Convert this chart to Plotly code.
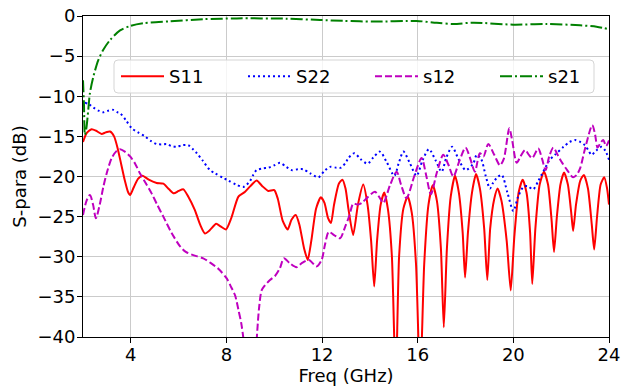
import plotly.graph_objects as go

# ---------------- data ----------------
s11_f = [2.0, 2.15, 2.36, 2.55, 2.78, 2.95, 3.13, 3.3, 3.45, 3.6, 3.75, 3.88, 3.97, 4.1, 4.3, 4.49,
         4.75, 5.08, 5.36, 5.6, 5.8, 6.0, 6.2, 6.4, 6.68, 6.9, 7.1, 7.3, 7.57, 7.75, 7.98, 8.2, 8.5,
         8.78, 9.0, 9.26, 9.5, 9.75, 10.0, 10.15, 10.35, 10.56, 10.72, 10.9, 11.05, 11.25, 11.4,
         11.55, 11.75, 11.95, 12.1, 12.25, 12.37, 12.5, 12.7, 12.85, 12.98, 13.1, 13.3,
         13.5, 13.72, 13.9, 14.05, 14.18, 14.3, 14.45, 14.6, 14.75, 14.92, 15.08, 15.22, 15.4,
         15.58, 15.75, 15.93, 16.1, 16.27, 16.45, 16.63, 16.8, 16.97, 17.09, 17.22, 17.38, 17.56,
         17.72, 17.88, 17.98, 18.1, 18.27, 18.44, 18.6, 18.78, 18.91, 19.03, 19.2, 19.34, 19.5,
         19.72, 19.89, 20.04, 20.22, 20.39, 20.55, 20.7, 20.79, 20.92, 21.1, 21.28, 21.45, 21.6,
         21.7, 21.82, 21.97, 22.12, 22.28, 22.42, 22.5, 22.62, 22.8, 22.95, 23.12, 23.28, 23.38,
         23.5, 23.65, 23.8, 23.92, 24.0]
s11_db = [-15.7, -14.6, -14.1, -14.3, -14.7, -14.5, -14.4, -15.0, -16.5, -18.5, -20.5, -21.9, -22.3,
          -21.5, -20.3, -19.9, -20.4, -20.8, -20.9, -21.6, -22.1, -21.8, -21.6, -22.5, -24.2, -26.0,
          -27.1, -26.7, -25.9, -26.2, -26.6, -25.2, -22.5, -21.9, -21.2, -20.5, -21.2, -21.8, -21.7,
          -22.8, -25.5, -26.6, -25.4, -24.8, -26.0, -29.0, -30.4, -28.0, -24.0, -22.6, -23.3, -25.2,
          -25.8, -23.5, -20.9, -20.4, -21.5, -24.0, -27.3,
          -23.5, -21.0, -23.5, -28.0, -33.7, -28.0, -23.5, -22.0, -24.0, -30.0, -46.0, -30.0, -24.0,
          -22.5, -24.5, -31.0, -46.0, -31.0, -23.5, -21.1, -23.0, -29.0, -38.8, -29.0, -22.5, -19.9,
          -22.0, -27.0, -32.6, -27.0, -22.0, -19.7, -21.5, -26.5, -32.9, -26.5, -22.8, -21.5, -23.0,
          -28.0, -34.2, -27.5, -22.0, -20.4, -22.0, -27.0, -33.4, -26.5, -21.0, -19.4, -21.0, -25.5,
          -29.4, -25.0, -21.0, -19.5, -21.0, -24.5, -26.8, -23.5, -20.5, -19.8, -21.5, -26.0, -29.1,
          -25.0, -21.0, -20.1, -21.5, -23.5]

s22_f = [2.08, 2.25, 2.43, 2.65, 2.85, 3.05, 3.27, 3.45, 3.55, 3.8, 4.04, 4.3, 4.59, 4.85, 5.08, 5.3,
         5.5, 5.7, 5.92, 6.15, 6.4, 6.6, 6.76, 7.0, 7.31, 7.52, 7.87, 8.08, 8.4, 8.7, 8.85, 8.98,
         9.12, 9.26, 9.5, 9.75, 10.0, 10.24, 10.5, 10.72, 11.0, 11.21, 11.5, 11.84, 12.1, 12.33,
         12.6, 12.79, 13.0, 13.1, 13.35, 13.6, 13.9, 14.15, 14.42, 14.7, 15.02, 15.2, 15.4, 15.65,
         15.95, 16.2, 16.47, 16.75, 17.0, 17.2, 17.44, 17.7, 18.0, 18.32, 18.47, 18.65, 18.85, 19.02,
         19.15, 19.3, 19.51, 19.75, 20.0, 20.2, 20.42, 20.6, 20.83, 21.05, 21.32, 21.5, 21.74, 22.1,
         22.35, 22.58, 22.8, 22.99, 23.15, 23.27, 23.45, 23.69, 23.85, 24.0]
s22_db = [-10.8, -11.0, -11.4, -11.8, -12.0, -11.8, -11.7, -12.0, -12.1, -13.0, -14.0, -14.5, -15.0,
          -15.6, -15.95, -16.0, -15.95, -16.2, -16.3, -16.1, -16.1, -16.6, -17.1, -18.0, -19.2, -19.6,
          -20.2, -20.5, -21.0, -21.3, -21.0, -20.6, -19.8, -19.2, -19.0, -18.9, -18.6, -18.3, -18.8,
          -19.2, -19.1, -19.1, -19.6, -20.1, -19.3, -18.8, -18.9, -18.9, -18.2, -17.7, -17.1, -17.8,
          -18.4, -17.6, -16.9, -18.2, -19.9, -18.4, -16.9, -18.2, -19.9, -18.0, -16.6, -18.0, -19.4,
          -17.6, -16.3, -17.8, -19.2, -18.4, -17.3, -17.8, -20.0, -21.5, -20.8, -20.2, -19.8, -22.0,
          -24.3, -22.5, -21.3, -21.2, -21.6, -20.5, -19.0, -18.0, -17.3, -16.3, -15.7, -15.45, -15.7,
          -16.1, -16.8, -17.3, -16.8, -16.3, -16.8, -17.9]

s12_f = [2.0, 2.15, 2.29, 2.42, 2.54, 2.7, 2.85, 3.0, 3.2, 3.38, 3.55, 3.75, 3.97, 4.18, 4.38, 4.62,
         4.87, 5.1, 5.36, 5.7, 6.06, 6.3, 6.61, 7.03, 7.35, 7.66, 8.01, 8.2, 8.36, 8.5, 8.62, 8.72,
         8.85, 9.15, 9.26, 9.36, 9.47, 9.6, 9.82, 10.03, 10.24, 10.4, 10.65, 10.93, 11.15, 11.45,
         11.77, 11.98, 12.12, 12.28, 12.5, 12.75, 12.96, 13.15, 13.3, 13.5, 13.66, 13.9, 14.21, 14.4,
         14.56, 14.85, 15.12, 15.3, 15.53, 15.85, 16.16, 16.35, 16.55, 16.8, 17.07, 17.28, 17.49,
         17.75, 18.0, 18.2, 18.39, 18.6, 18.75, 18.95, 19.2, 19.44, 19.6, 19.83, 19.95, 20.14, 20.3,
         20.49, 20.65, 20.79, 21.04, 21.2, 21.35, 21.5, 21.67, 21.85, 22.02, 22.25, 22.5, 22.65,
         22.79, 23.0, 23.3, 23.42, 23.52, 23.65, 23.76, 23.88, 24.0]
s12_db = [-24.8, -23.0, -22.3, -23.5, -25.2, -23.5, -21.3, -19.5, -17.7, -16.9, -16.6, -16.9, -17.5,
          -18.4, -19.6, -20.8, -22.1, -23.5, -25.0, -27.0, -28.7, -29.4, -29.8, -30.2, -30.8, -31.5,
          -32.7, -33.8, -34.8, -36.6, -38.3, -40.5, -45.0, -45.0, -40.5, -36.5, -34.2, -33.6, -32.9,
          -32.4, -31.4, -30.2, -30.8, -31.3, -30.8, -30.4, -31.2, -30.4, -28.5, -26.9, -27.3, -27.7,
          -26.3, -24.8, -23.4, -23.5, -23.3, -22.6, -21.9, -22.6, -23.3, -21.0, -19.4, -21.0, -22.7,
          -20.0, -17.7, -19.8, -22.2, -19.5, -17.3, -18.5, -20.0, -18.0, -16.4, -17.8, -19.4, -17.1,
          -17.5, -15.95, -17.3, -18.6, -17.8, -14.0, -15.5, -18.3, -17.5, -16.7, -17.3, -17.7, -16.5,
          -17.8, -19.2, -17.5, -16.4, -17.3, -18.2, -19.2, -20.1, -19.8, -19.0, -16.5, -13.6, -14.8,
          -16.4, -15.8, -15.45, -16.2, -15.5]

s21_f = [2.0, 2.04, 2.08, 2.14, 2.22, 2.29, 2.43, 2.64, 2.85, 3.13, 3.55, 3.97, 4.52, 5.64, 7.03,
         8.43, 10.5, 11.91, 12.9, 14.14, 15.95, 16.8, 17.49, 18.32, 20.0, 21.39, 22.79, 23.48, 24.0]
s21_db = [-8.0, -11.0, -14.8, -14.0, -11.7, -9.6, -7.6, -5.5, -4.2, -3.0, -1.8, -1.25, -0.9, -0.66,
          -0.4, -0.3, -0.33, -0.5, -0.6, -0.7, -0.62, -0.85, -1.0, -0.83, -1.08, -1.0, -1.16, -1.33,
          -1.66]

x_ticks = [4, 8, 12, 16, 20, 24]
y_ticks = [0, -5, -10, -15, -20, -25, -30, -35, -40]

FONT = "DejaVu Sans"
W, H = 621, 387
ML, MR, MT, MB = 83, 12, 16, 50
PW, PH = W - ML - MR, H - MT - MB


def px_to_paper_x(px):
    return (px - ML) / PW


def px_to_paper_y(py):
    return (H - MB - py) / PH


fig = go.Figure()
fig.add_trace(go.Scatter(x=s11_f, y=s11_db, mode="lines", name="S11", legend="legend",
                         line=dict(color="#ff0000", width=2, shape="spline", smoothing=0.6)))
fig.add_trace(go.Scatter(x=s22_f, y=s22_db, mode="lines", name="S22", legend="legend2",
                         line=dict(color="#0000ff", width=2, dash="2px,3px",
                                   shape="spline", smoothing=0.8)))
fig.add_trace(go.Scatter(x=s12_f, y=s12_db, mode="lines", name="s12", legend="legend3",
                         line=dict(color="#bf00bf", width=2, dash="7px,3px",
                                   shape="spline", smoothing=0.8)))
fig.add_trace(go.Scatter(x=s21_f, y=s21_db, mode="lines", name="s21", legend="legend4",
                         line=dict(color="#008000", width=2, dash="12px,3px,2px,3px",
                                   shape="spline", smoothing=0.8)))

axis_common = dict(showline=True, linecolor="black", linewidth=1, mirror=True,
                   ticks="outside", ticklen=5, tickcolor="black", tickwidth=1,
                   showgrid=True, gridcolor="#cbcbcb", gridwidth=1, zeroline=False,
                   automargin=False,
                   tickfont=dict(family=FONT, size=18, color="black"))

fig.update_xaxes(range=[2, 24], tickvals=x_ticks, ticktext=[str(v) for v in x_ticks],
                 ticklabelstandoff=-4,
                 title=dict(text="Freq (GHz)", font=dict(family=FONT, size=18, color="black"),
                            standoff=4),
                 **axis_common)
fig.update_yaxes(range=[-40, 0], tickvals=y_ticks,
                 ticktext=[("\u2212" + str(-v)) if v < 0 else str(v) for v in y_ticks],
                 ticklabelstandoff=-2,
                 title=dict(text="S-para (dB)", font=dict(family=FONT, size=18, color="black"),
                            standoff=6),
                 **axis_common)

# legend frame (rounded box drawn as a shape)
bx0, bx1 = px_to_paper_x(114), px_to_paper_x(594)
by1, by0 = px_to_paper_y(60), px_to_paper_y(93)
rx, ry = 4 / PW, 4 / PH
box_path = (f"M{bx0+rx},{by1} L{bx1-rx},{by1} Q{bx1},{by1} {bx1},{by1-ry} "
            f"L{bx1},{by0+ry} Q{bx1},{by0} {bx1-rx},{by0} L{bx0+rx},{by0} "
            f"Q{bx0},{by0} {bx0},{by0+ry} L{bx0},{by1-ry} Q{bx0},{by1} {bx0+rx},{by1} Z")
fig.add_shape(type="path", path=box_path, xref="paper", yref="paper", layer="above",
              fillcolor="rgba(255,255,255,0.8)", line=dict(color="#d5d5d5", width=1))

leg_common = dict(orientation="h", xanchor="left", yanchor="middle",
                  y=px_to_paper_y(76.5), bgcolor="rgba(0,0,0,0)", borderwidth=0,
                  itemwidth=43, font=dict(family=FONT, size=18, color="black"))

fig.update_layout(
    width=W, height=H, autosize=False, showlegend=True,
    margin=dict(l=ML, r=MR, t=MT, b=MB),
    plot_bgcolor="white", paper_bgcolor="white",
    font=dict(family=FONT, size=18, color="black"),
    legend=dict(x=px_to_paper_x(116), **leg_common),
    legend2=dict(x=px_to_paper_x(243), **leg_common),
    legend3=dict(x=px_to_paper_x(370), **leg_common),
    legend4=dict(x=px_to_paper_x(495), **leg_common),
)

fig.write_html("out.html", config={"displayModeBar": False},
               post_script="document.body.style.margin='0';")
